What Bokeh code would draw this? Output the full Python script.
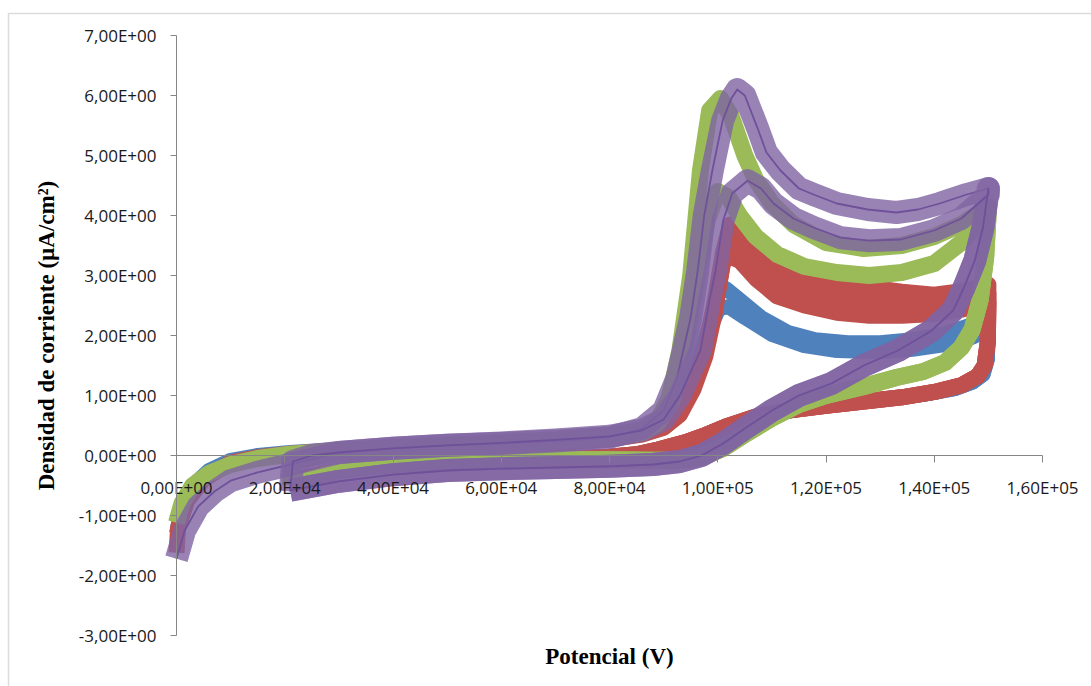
from bokeh.plotting import figure
from bokeh.models import Range1d, LinearAxis, FixedTicker, CustomJSTickFormatter, BoxAnnotation
from bokeh.embed import file_html
from bokeh.resources import INLINE

# ---------------- data (potential in V, current density in uA/cm2) ----------------
# Serie 1 (blue)
blue_fwd_a_x = [0, 1000, 3000, 6000, 10000, 15000, 21000, 30000, 40000, 50000, 60000, 70000, 80000, 86000, 90000, 93000, 96000, 98500, 100000, 101500, 104000, 108000, 113000, 118000, 124000, 130000, 136000, 142000, 147000, 150000]
blue_fwd_a_y = [-1.3, -0.85, -0.5, -0.25, -0.08, 0.0, 0.05, 0.1, 0.14, 0.17, 0.2, 0.24, 0.3, 0.38, 0.5, 0.8, 1.4, 2.2, 2.7, 2.78, 2.6, 2.3, 2.05, 1.93, 1.88, 1.88, 1.93, 2.03, 2.18, 2.35]
blue_fwd_b_x = [21000, 21500, 30000, 40000, 50000, 60000, 70000, 80000, 86000, 90000, 93000, 96000, 98500, 100200, 102000, 105000, 110000, 116000, 122000, 130000, 136000, 142000, 147000, 150000]
blue_fwd_b_y = [-0.4, -0.05, 0.07, 0.12, 0.15, 0.18, 0.22, 0.28, 0.35, 0.48, 0.75, 1.35, 2.1, 2.45, 2.48, 2.3, 2.02, 1.83, 1.75, 1.73, 1.77, 1.85, 1.97, 2.1]
blue_rev_x = [150000, 149800, 149000, 147000, 144000, 138000, 130000, 122000, 115000, 108000, 103000, 99000, 95000, 90000, 85000, 78000, 70000, 60000, 50000, 40000, 30000, 21000]
blue_rev_y = [2.1, 1.6, 1.35, 1.22, 1.12, 1.02, 0.93, 0.85, 0.77, 0.66, 0.52, 0.35, 0.2, 0.05, -0.03, -0.06, -0.08, -0.1, -0.12, -0.16, -0.25, -0.4]

# Serie 2 (red)
red_fwd_a_x = [0, 300, 2000, 5000, 10000, 15000, 21000, 30000, 40000, 50000, 60000, 70000, 80000, 86000, 90000, 93000, 95500, 97700, 99500, 101000, 102300, 105000, 108000, 112000, 117000, 123000, 128000, 134000, 140000, 145000, 150000]
red_fwd_a_y = [-1.62, -1.2, -0.75, -0.4, -0.12, -0.03, 0.03, 0.09, 0.13, 0.16, 0.19, 0.23, 0.29, 0.37, 0.48, 0.72, 1.2, 1.75, 2.6, 3.4, 3.85, 3.6, 3.25, 3.02, 2.92, 2.85, 2.8, 2.73, 2.68, 2.74, 2.85]
red_fwd_b_x = [21000, 21500, 30000, 40000, 50000, 60000, 70000, 80000, 86000, 90000, 93000, 95500, 97700, 99500, 101800, 104500, 108000, 112000, 117000, 123000, 128000, 134000, 140000, 145000, 150000]
red_fwd_b_y = [-0.45, -0.1, 0.06, 0.11, 0.15, 0.18, 0.22, 0.28, 0.36, 0.47, 0.7, 1.15, 1.7, 2.5, 3.6, 3.45, 3.05, 2.82, 2.7, 2.6, 2.57, 2.55, 2.52, 2.58, 2.7]
red_fwd_c_x = [21000, 21500, 30000, 40000, 50000, 60000, 70000, 80000, 86000, 90000, 93000, 95500, 97700, 99500, 101200, 104000, 107000, 111000, 116000, 122000, 128000, 134000, 140000, 145000, 150000]
red_fwd_c_y = [-0.45, -0.1, 0.05, 0.1, 0.14, 0.17, 0.21, 0.27, 0.35, 0.46, 0.68, 1.1, 1.65, 2.4, 3.35, 3.25, 2.95, 2.65, 2.5, 2.38, 2.33, 2.33, 2.36, 2.43, 2.55]
red_rev_x = [150000, 149900, 149300, 148000, 145000, 140000, 134000, 127000, 120000, 113000, 107000, 102000, 98000, 94000, 89000, 85000, 80000, 70000, 60000, 50000, 40000, 30000, 21000]
red_rev_y = [2.55, 1.9, 1.5, 1.32, 1.17, 1.06, 0.97, 0.9, 0.83, 0.75, 0.65, 0.5, 0.35, 0.22, 0.1, 0.02, -0.02, -0.06, -0.09, -0.11, -0.15, -0.24, -0.45]

# Serie 3 (green)
green_fwd_a_x = [0, 1000, 3000, 6000, 10000, 15000, 21000, 30000, 40000, 50000, 60000, 70000, 80000, 86000, 89000, 91000, 93000, 95000, 96800, 98500, 100500, 102500, 105000, 107000, 110000, 114000, 120000, 127000, 134000, 140000, 145000, 150000]
green_fwd_a_y = [-1.12, -0.8, -0.5, -0.3, -0.15, -0.05, 0.02, 0.08, 0.13, 0.17, 0.21, 0.26, 0.33, 0.42, 0.6, 0.95, 1.75, 3.0, 4.75, 5.75, 5.95, 5.65, 5.0, 4.6, 4.2, 3.85, 3.55, 3.45, 3.5, 3.65, 3.85, 4.15]
green_fwd_b_x = [21000, 21500, 30000, 40000, 50000, 60000, 70000, 80000, 86000, 89000, 91500, 93500, 96000, 98000, 100000, 102000, 104000, 107000, 111000, 116000, 122000, 128000, 134000, 140000, 145000, 150000]
green_fwd_b_y = [-0.5, -0.05, 0.05, 0.11, 0.15, 0.19, 0.24, 0.3, 0.38, 0.55, 0.9, 1.6, 2.9, 3.9, 4.4, 4.3, 4.0, 3.65, 3.35, 3.15, 3.05, 3.0, 3.05, 3.2, 3.55, 4.1]
green_rev_x = [150000, 149500, 148500, 147000, 145000, 142000, 138000, 133000, 127000, 120000, 115000, 110000, 105000, 101000, 97000, 93000, 88000, 80000, 70000, 60000, 50000, 40000, 30000, 21000]
green_rev_y = [4.1, 3.3, 2.6, 2.1, 1.8, 1.55, 1.4, 1.3, 1.15, 1.0, 0.85, 0.62, 0.35, 0.12, -0.03, -0.08, -0.08, -0.07, -0.07, -0.08, -0.09, -0.13, -0.25, -0.5]

# Serie 4 (purple)
purple_fwd_a_x = [0, 1500, 4000, 7000, 10000, 15000, 21000, 30000, 40000, 50000, 60000, 70000, 80000, 86000, 90000, 92500, 95000, 96300, 97500, 99000, 100900, 102500, 103600, 105000, 107300, 109000, 111600, 115000, 117700, 122000, 127700, 133000, 137000, 141000, 146000, 150000]
purple_fwd_a_y = [-1.72, -1.25, -0.85, -0.6, -0.42, -0.28, -0.15, 0.05, 0.12, 0.17, 0.2, 0.24, 0.3, 0.45, 0.75, 1.3, 2.3, 3.08, 4.0, 4.75, 5.58, 5.95, 6.1, 6.0, 5.47, 5.05, 4.75, 4.45, 4.35, 4.2, 4.1, 4.05, 4.1, 4.2, 4.35, 4.45]
purple_fwd_b_x = [21000, 21500, 25000, 30000, 40000, 50000, 60000, 70000, 80000, 86000, 90000, 93000, 96800, 98500, 99600, 101000, 102700, 105500, 108000, 110300, 114000, 117700, 122700, 128000, 133800, 140000, 145000, 150000]
purple_fwd_b_y = [-0.6, -0.1, 0.0, 0.05, 0.12, 0.17, 0.21, 0.26, 0.32, 0.42, 0.6, 1.0, 1.75, 2.6, 3.08, 3.92, 4.37, 4.58, 4.45, 4.2, 3.95, 3.8, 3.63, 3.58, 3.6, 3.75, 3.95, 4.35]
purple_rev_x = [150000, 149000, 147500, 145500, 143500, 139500, 133300, 127000, 121000, 115000, 110000, 105000, 101000, 97000, 93000, 88000, 80000, 70000, 60000, 50000, 40000, 30000, 21000]
purple_rev_y = [4.45, 3.8, 3.25, 2.8, 2.42, 2.08, 1.75, 1.5, 1.2, 1.0, 0.75, 0.45, 0.2, 0.0, -0.1, -0.15, -0.18, -0.2, -0.22, -0.25, -0.32, -0.43, -0.58]

x_ticks = [0, 20000, 40000, 60000, 80000, 100000, 120000, 140000, 160000]
y_ticks = [-3, -2, -1, 0, 1, 2, 3, 4, 5, 6, 7]

BLUE, RED, GREEN, PURPLE = "#4F81BD", "#C0504D", "#9BBB59", "#8064A2"

# ---------------- layout: frame covers the whole canvas, axes sit at fixed locations ----------------
W, H = 1091, 686
X0_PX, X1_PX = 176, 1042      # canvas px of x = 0 and x = 160000
Y7_PX, YM3_PX = 35, 635       # canvas px of y = 7 and y = -3
sx = (x_ticks[-1] - x_ticks[0]) / (X1_PX - X0_PX)
sy = (y_ticks[-1] - y_ticks[0]) / (YM3_PX - Y7_PX)
x_range = Range1d(x_ticks[0] - X0_PX * sx, x_ticks[-1] + (W - X1_PX) * sx)
y_range = Range1d(y_ticks[0] - (H - YM3_PX) * sy, y_ticks[-1] + Y7_PX * sy)

p = figure(width=W, height=H, output_backend="svg", toolbar_location=None,
           x_range=x_range, y_range=y_range,
           x_axis_location=None, y_axis_location=None,
           min_border_left=0, min_border_right=0, min_border_top=0, min_border_bottom=0)
p.grid.visible = False
p.outline_line_color = None
p.background_fill_color = "white"
p.border_fill_color = "white"

fmt = CustomJSTickFormatter(code="""
const s = tick.toExponential(2);
const parts = s.split('e');
const m = parts[0].replace('.', ',');
const e = parseInt(parts[1]);
const sign = e < 0 ? '-' : '+';
const a = Math.abs(e);
return m + 'E' + sign + (a < 10 ? '0' + a : '' + a);
""")

AX = "#868686"
TICK_FONT = "Open Sans"
yaxis = LinearAxis(ticker=FixedTicker(ticks=y_ticks), formatter=fmt, fixed_location=0,
                   bounds=(y_ticks[0], y_ticks[-1]),
                   axis_label="Densidad de corriente (µA/cm²)",
                   axis_label_text_font="Liberation Serif", axis_label_text_font_style="bold",
                   axis_label_text_font_size="23px", axis_label_text_color="black",
                   axis_label_standoff=17,
                   major_label_text_font=TICK_FONT, major_label_text_font_size="17px",
                   major_label_text_color="#1a1a1a", major_label_standoff=14,
                   axis_line_color=AX, major_tick_line_color=AX,
                   major_tick_out=6, major_tick_in=0, minor_tick_out=0, minor_tick_in=0)
p.add_layout(yaxis, "left")

xaxis = LinearAxis(ticker=FixedTicker(ticks=x_ticks), formatter=fmt, fixed_location=0,
                   bounds=(x_ticks[0], x_ticks[-1]),
                   axis_label="Potencial (V)",
                   axis_label_text_font="Liberation Serif", axis_label_text_font_style="bold",
                   axis_label_text_font_size="23px", axis_label_text_color="black",
                   axis_label_standoff=142,
                   major_label_text_font=TICK_FONT, major_label_text_font_size="17px",
                   major_label_text_color="#1a1a1a", major_label_standoff=13,
                   axis_line_color=AX, major_tick_line_color=AX,
                   major_tick_out=7, major_tick_in=0, minor_tick_out=0, minor_tick_in=0)
p.add_layout(xaxis, "below")

# chart area border (left and top edges visible; right/bottom run off the picture)
p.add_layout(BoxAnnotation(left=8, right=W + 20, top=13, bottom=H + 20,
                           left_units="canvas", right_units="canvas",
                           top_units="canvas", bottom_units="canvas",
                           fill_alpha=0, line_color="#8c8c8c", line_width=1.5, level="underlay"))

def path(*parts):
    xs, ys = [], []
    for px_, py_ in parts:
        xs += px_
        ys += py_
    return xs, ys

# blue
for fx, fy in [(blue_fwd_a_x, blue_fwd_a_y), (blue_fwd_b_x, blue_fwd_b_y)]:
    xs, ys = path((fx, fy), (blue_rev_x, blue_rev_y))
    p.line(xs, ys, line_color=BLUE, line_width=15, line_join="round", line_cap="butt")
# red
for fx, fy in [(red_fwd_a_x, red_fwd_a_y), (red_fwd_b_x, red_fwd_b_y), (red_fwd_c_x, red_fwd_c_y)]:
    xs, ys = path((fx, fy), (red_rev_x, red_rev_y))
    p.line(xs, ys, line_color=RED, line_width=16, line_join="round", line_cap="butt")
# green
for fx, fy in [(green_fwd_a_x, green_fwd_a_y), (green_fwd_b_x, green_fwd_b_y)]:
    xs, ys = path((fx, fy), (green_rev_x, green_rev_y))
    p.line(xs, ys, line_color=GREEN, line_width=17, line_join="round", line_cap="butt")
# purple
for fx, fy in [(purple_fwd_a_x, purple_fwd_a_y), (purple_fwd_b_x, purple_fwd_b_y)]:
    xs, ys = path((fx, fy), (purple_rev_x, purple_rev_y))
    p.line(xs, ys, line_color=PURPLE, line_width=23, line_alpha=0.8, line_join="round", line_cap="butt")
    p.line(xs, ys, line_color="#6f519a", line_width=1.8, line_join="round")

open("out.html", "w").write(file_html(p, INLINE))
